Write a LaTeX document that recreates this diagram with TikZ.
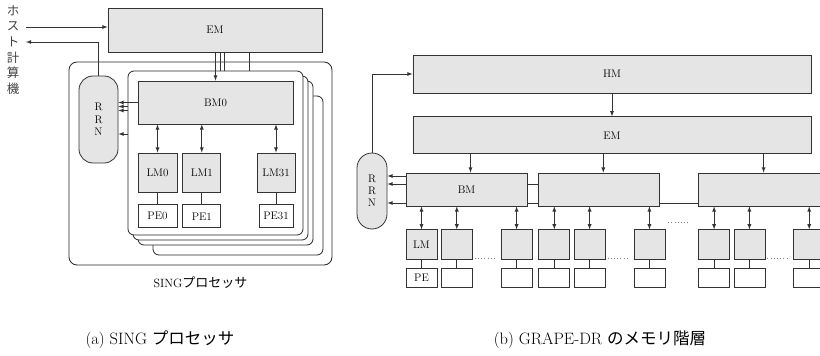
\documentclass[tikz,border=0pt]{standalone}
\usepackage{fontspec}
\newfontfamily\cjk{Noto Sans CJK JP}
\usetikzlibrary{positioning}

\tikzset{
  membox/.style={draw=black!80, fill=black!10, line width=0.8pt, inner sep=0pt, font=\fontsize{11}{13}\selectfont},
  pebox/.style={membox, fill=white},
  board/.style={draw=black!85, fill=white, line width=0.8pt, rounded corners=6pt, inner sep=0pt},
  rrnbox/.style={membox, rounded corners=14pt, align=center},
  lmsize/.style={minimum width=31pt, minimum height=30pt},
  link/.style={draw=black!80, line width=0.8pt},
  dotline/.style={draw=black!50, line width=0.8pt, dash pattern=on 0.8pt off 2.4pt}
}

\begin{document}
\begin{tikzpicture}[x=1pt, y=-1pt, >=latex]
  \useasboundingbox (0,0) rectangle (820,356);

  \node (host) [align=center, inner sep=0pt, text=black!75, font=\cjk\fontsize{12.5}{15.6}\selectfont] at (13,50) {ホ\\ス\\ト\\計\\算\\機};
  \node (em_a) [membox, minimum width=214pt, minimum height=44pt] at (215,30) {EM};
  \node (sing) [board, minimum width=263pt, minimum height=203pt, rounded corners=8pt] at (200.5,163.5) {};
  \node (sing_lbl) [below=11pt of sing, inner sep=0pt, font=\fontsize{12}{14}\selectfont] {SING{\cjk\fontsize{13}{14}\selectfont プロセッサ}};

  \node (board3) [board, minimum width=170pt, minimum height=159pt] at (238,175.5) {};
  \node (board2) [board, minimum width=175pt, minimum height=164pt] at (225.5,163) {};
  \node (board1) [board, minimum width=175pt, minimum height=164pt] at (220.5,158) {};
  \node (board0) [board, minimum width=175pt, minimum height=164pt] at (215.5,153) {};

  \node (bm0) [membox, minimum width=155pt, minimum height=43pt] at (215.5,102.5) {BM0};
  \node (lm0) [membox, minimum width=39pt, minimum height=39pt] at (157.5,172.5) {LM0};
  \node (lm1) [membox, minimum width=38pt, minimum height=39pt, right=5pt of lm0] {LM1};
  \node (lm31) [membox, minimum width=38pt, minimum height=39pt] at (276,172.5) {LM31};
  \node (pe0) [pebox, minimum width=39pt, minimum height=23pt, below=12pt of lm0] {PE0};
  \node (pe1) [pebox, minimum width=38pt, minimum height=23pt, below=12pt of lm1] {PE1};
  \node (pe31) [pebox, minimum width=34pt, minimum height=23pt, below=12pt of lm31] {PE31};
  \node (rrn_a) [rrnbox, minimum width=39pt, minimum height=87pt, font=\fontsize{11}{12.5}\selectfont] at (98.5,119.5) {R\\R\\N};

  \coordinate (host_in) at (26,27);
  \coordinate (host_out) at (26,42);
  \draw[link, ->] (host_in) -- (host_in -| em_a.west);
  \draw[link, ->] (rrn_a.north) |- (host_out);
  \draw[link, ->] (em_a.south -| bm0.north) -- (bm0.north);
  \foreach \dx in {5,9,34} {
    \coordinate (tap) at ([xshift=\dx pt]bm0.north);
    \draw[link] (tap |- em_a.south) -- (tap |- board0.north);
  }
  \draw[link, ->] (bm0.west) -- (bm0.west -| rrn_a.east);
  \foreach \dy in {4,8,31.5} {
    \coordinate (tap) at ([yshift=-\dy pt]bm0.west);
    \draw[link, ->] (tap -| board0.west) -- (tap -| rrn_a.east);
  }
  \foreach \n in {0,1,31} {
    \draw[link, <->] (bm0.south -| lm\n.north) -- (lm\n.north);
    \draw[link] (lm\n) -- (pe\n);
  }

  \node (hm) [membox, minimum width=398pt, minimum height=38pt] at (612,74) {HM};
  \node (em_b) [membox, minimum width=398pt, minimum height=37pt, below=23pt of hm] {EM};
  \node (rrn_b) [rrnbox, minimum width=30pt, minimum height=76pt, rounded corners=15pt, font=\fontsize{11}{12}\selectfont] at (372,191) {R\\R\\N};
  \node (bm1) [membox, minimum width=121pt, minimum height=33pt] at (466.5,189.5) {BM};
  \node (bm2) [membox, minimum width=121pt, minimum height=33pt, right=11pt of bm1] {};
  \node (bm3) [membox, minimum width=122pt, minimum height=33pt, right=38pt of bm2] {};

  \foreach \g in {1,2,3} {
    \node (lm\g a) [membox, lmsize, anchor=north west] at ([yshift=-23pt]bm\g.south west) {};
    \node (lm\g b) [membox, lmsize, right=3.5pt of lm\g a] {};
    \node (lm\g c) [membox, lmsize, right=28pt of lm\g b] {};
    \foreach \i in {a,b,c} {
      \node (pe\g\i) [pebox, minimum width=31pt, minimum height=19pt, below=8pt of lm\g\i] {};
      \draw[link, <->] (bm\g.south -| lm\g\i.north) -- (lm\g\i.north);
      \draw[link] (lm\g\i) -- (pe\g\i);
    }
    \draw[dotline] ([xshift=2pt,yshift=2pt]lm\g b.south east) -- ([xshift=-6pt,yshift=2pt]lm\g c.south west);
    \coordinate (tap) at ([xshift=4pt]bm\g.north);
    \draw[link, ->] (tap |- em_b.south) -- (tap);
  }
  \node (lm_txt) [font=\fontsize{11}{13}\selectfont] at (lm1a) {LM};
  \node (pe_txt) [font=\fontsize{11}{13}\selectfont] at (pe1a) {PE};
  \draw[dotline] ([xshift=8pt,yshift=-16pt]bm2.south east) -- ([xshift=-10pt,yshift=-16pt]bm3.south west);

  \draw[link, ->] (hm) -- (em_b);
  \draw[link, ->] (rrn_b.north) |- (hm.west);
  \draw[link] ([yshift=5.5pt]bm1.east) -- ([yshift=5.5pt]bm2.west);
  \draw[link] ([yshift=-13.5pt]bm1.east) -- ([yshift=-13.5pt]bm2.west);
  \draw[link] ([yshift=-13.5pt]bm2.east) -- ([yshift=-13.5pt]bm3.west);
  \foreach \dy in {13.5,5.5,-13.5} {
    \coordinate (tap) at ([yshift=\dy pt]bm1.west);
    \draw[link, ->] (tap) -- (tap -| rrn_b.east);
  }

  \node (cap_a) [font=\fontsize{16.5}{19}\selectfont] at (160,340) {(a) SING {\cjk プロセッサ}};
  \node (cap_b) [font=\fontsize{16.5}{19}\selectfont] at (600,340) {(b) GRAPE-DR {\cjk のメモリ階層}};
\end{tikzpicture}
\end{document}
